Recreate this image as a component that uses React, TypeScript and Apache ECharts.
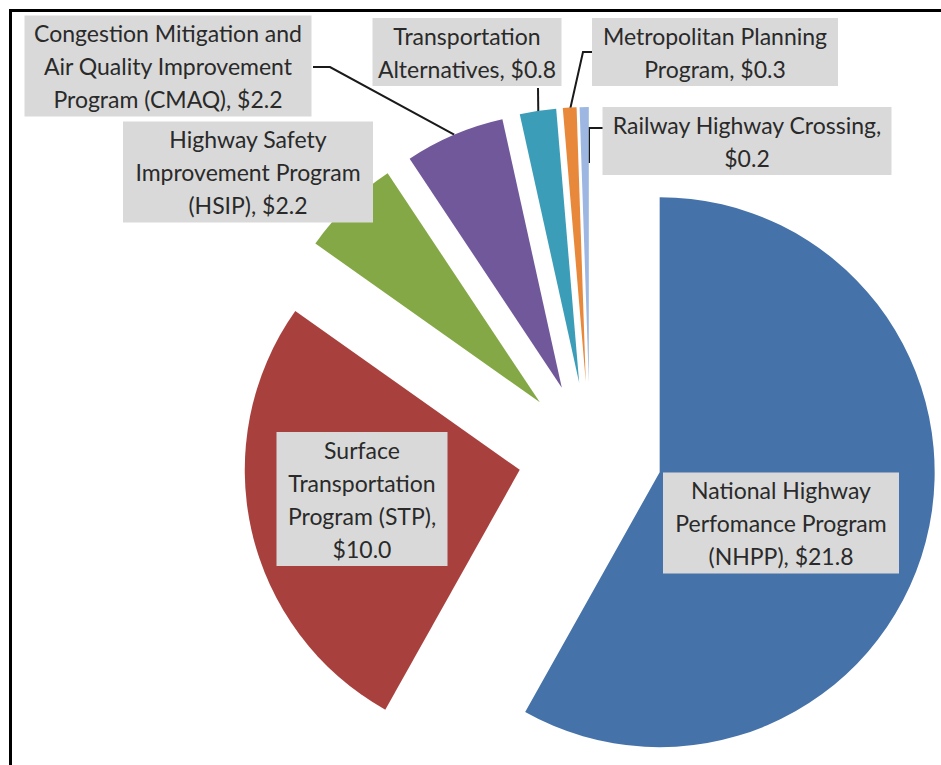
import React, { useEffect, useRef } from "react";
import * as echarts from "echarts";

// ---- data ----
const categories = [
  "National Highway Perfomance Program (NHPP)",
  "Surface Transportation Program (STP)",
  "Highway Safety Improvement Program (HSIP)",
  "Congestion Mitigation and Air Quality Improvement Program (CMAQ)",
  "Transportation Alternatives",
  "Metropolitan Planning Program",
  "Railway Highway Crossing",
];
const values = [21.8, 10.0, 2.2, 2.2, 0.8, 0.3, 0.2];
// label text lines (value appended from values)
const labelLines = [
  ["National Highway", "Perfomance Program", "(NHPP), "],
  ["Surface", "Transportation", "Program (STP),", ""],
  ["Highway Safety", "Improvement Program", "(HSIP), "],
  ["Congestion Mitigation and", "Air Quality Improvement", "Program (CMAQ), "],
  ["Transportation", "Alternatives, "],
  ["Metropolitan Planning", "Program, "],
  ["Railway Highway Crossing,", ""],
];
const colors = ["#4672AA", "#A8413E", "#84A845", "#70589A", "#3C9DB8", "#E8883A", "#9DB7E2"];

// ---- layout (positions / sizes only) ----
const CX = 590;
const CY = 454;
const R = 275;
const EXPLODE = 72;
// label boxes: center x, center y, width
const boxes = [
  { x: 781, y: 523, w: 236 },
  { x: 362, y: 499, w: 171 },
  { x: 248, y: 172, w: 250 },
  { x: 168, y: 66, w: 287 },
  { x: 467, y: 52, w: 189 },
  { x: 715, y: 52, w: 246 },
  { x: 747, y: 141, w: 289 },
];
// leader lines: anchor radius on slice, elbow point, end point at box
const leaders: Record<number, { r: number; elbow: number[]; end: number[] | null }> = {
  3: { r: 275, elbow: [330, 67], end: [313, 67] },
  4: { r: 272, elbow: [538, 88], end: null },
  5: { r: 272, elbow: [583, 52], end: [592, 52] },
  6: { r: 219, elbow: [589, 128], end: [603, 128] },
};

function fmt(v: number) {
  return "$" + v.toFixed(1);
}

export default function App() {
  const ref = useRef<HTMLDivElement>(null);
  useEffect(() => {
    if (!ref.current) return;
    const chart = echarts.init(ref.current, null, { renderer: "svg" });
    const total = values.reduce((a, b) => a + b, 0);
    let cum = 0;
    const centers: number[][] = [];
    const mids: number[] = [];
    values.forEach((v) => {
      const mid = ((cum + v / 2) / total) * 2 * Math.PI;
      cum += v;
      mids.push(mid);
      centers.push([CX + Math.sin(mid) * EXPLODE, CY - Math.cos(mid) * EXPLODE]);
    });

    const series = values.map((_, i) => ({
      type: "pie",
      center: centers[i],
      radius: [0, R],
      startAngle: 90,
      clockwise: true,
      avoidLabelOverlap: false,
      silent: true,
      emphasis: { disabled: true },
      itemStyle: { borderWidth: 0 },
      labelLayout: () => {
        const b = boxes[i];
        const out: any = { x: b.x, y: b.y, align: "center", verticalAlign: "middle" };
        const ld = leaders[i];
        if (ld) {
          const a = [
            centers[i][0] + Math.sin(mids[i]) * ld.r,
            centers[i][1] - Math.cos(mids[i]) * ld.r,
          ];
          if (i === 6) a[0] = ld.elbow[0];
          out.labelLinePoints = [a, ld.elbow, ld.end || ld.elbow];
        }
        return out;
      },
      data: values.map((v, j) => {
        const lines = labelLines[j].slice();
        lines[lines.length - 1] = lines[lines.length - 1] + fmt(v);
        return {
          name: categories[j],
          value: v,
          itemStyle: { color: j === i ? colors[j] : "rgba(0,0,0,0)", borderWidth: 0 },
          label: {
            show: j === i,
            position: "outside",
            formatter: lines.join("\n"),
            width: boxes[j].w,
            backgroundColor: "#D9D9D9",
            color: "#2a2a2a",
            fontFamily: "Lato, 'Open Sans', sans-serif",
            fontSize: 23,
            lineHeight: 33,
            padding: [1, 0, 1, 0],
            align: "center",
          },
          labelLine: {
            show: j === i && leaders[j] !== undefined,
            lineStyle: { color: "#1a1a1a", width: 2 },
          },
        };
      }),
    }));

    chart.setOption({
      animation: false,
      backgroundColor: "#ffffff",
      graphic: [
        { type: "rect", shape: { x: 9, y: 9, width: 932, height: 3 }, style: { fill: "#000" } },
        { type: "rect", shape: { x: 9, y: 9, width: 3, height: 756 }, style: { fill: "#000" } },
      ],
      series,
    } as any);
    return () => chart.dispose();
  }, []);
  return (
    <div
      ref={ref}
      style={{ position: "fixed", left: 0, top: 0, width: 941, height: 765 }}
    />
  );
}
